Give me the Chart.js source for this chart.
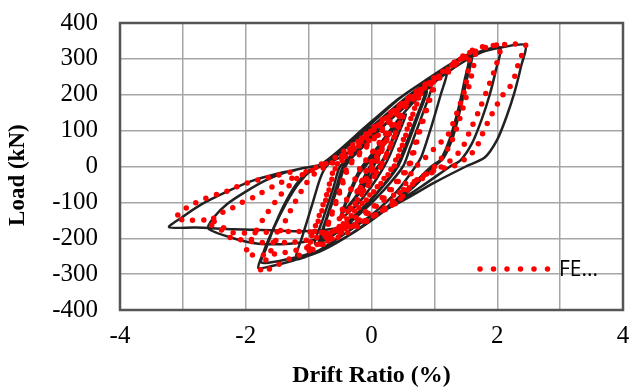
<!DOCTYPE html>
<html>
<head>
<meta charset="utf-8">
<script src="https://cdn.jsdelivr.net/npm/chart.js@4.4.1/dist/chart.umd.min.js"></script>
<style>
  html, body { margin: 0; padding: 0; background: #fff; }
  #wrap { width: 640px; height: 388px; }
</style>
</head>
<body>
<div id="wrap"><canvas id="chart" width="640" height="388"></canvas></div>
<script>
// Axis settings
const driftMin = -4, driftMax = 4;
const loadMin = -400, loadMax = 400;
const driftLabels = [-4, -2, 0, 2, 4];

// Experimental curve, [drift %, load kN]
const expPoints = [
  [0,0],[0.1,35],[0.22,70],[0.12,30],[0.03,0],[-0.1,-35],[-0.22,-68],[-0.12,-30],[-0.03,0],
  [0.12,45],[0.3,95],[0.45,128],[0.35,85],[0.2,25],[0.1,0],[-0.1,-45],[-0.3,-95],[-0.45,-125],[-0.35,-80],[-0.2,-22],[-0.1,0],
  [0.12,50],[0.32,100],[0.47,132],[0.37,88],[0.22,26],[0.12,0],[-0.08,-48],[-0.3,-98],[-0.47,-130],[-0.37,-84],[-0.22,-24],[-0.12,0],
  [0.15,55],[0.38,110],[0.55,145],[0.45,100],[0.3,35],[0.2,0],[0,-55],[-0.25,-110],[-0.5,-145],[-0.4,-95],[-0.25,-30],[-0.15,0],
  [0.1,55],[0.4,125],[0.7,185],[0.85,205],[0.72,140],[0.52,50],[0.4,0],[0.15,-60],[-0.2,-125],[-0.55,-180],[-0.8,-205],[-0.7,-140],[-0.52,-50],[-0.42,0],
  [-0.15,55],[0.3,130],[0.7,190],[0.88,210],[0.75,145],[0.55,52],[0.42,0],[0.15,-62],[-0.2,-128],[-0.58,-184],[-0.83,-210],[-0.72,-145],[-0.55,-52],[-0.45,0],
  [-0.1,60],[0.35,140],[0.75,200],[0.95,220],[0.82,150],[0.62,55],[0.5,0],[0.2,-65],[-0.2,-135],[-0.6,-190],[-0.9,-215],[-0.78,-150],[-0.6,-55],[-0.5,0],
  [-0.2,50],[0.2,130],[0.6,195],[0.95,240],[1.2,265],[1.1,200],[0.95,110],[0.8,30],[0.7,0],[0.4,-70],[0,-135],[-0.45,-190],[-0.85,-235],[-1.2,-258],[-1.1,-195],[-0.95,-110],[-0.82,-35],[-0.72,0],
  [-0.45,45],[0,120],[0.45,190],[0.9,245],[1.25,285],[1.55,312],[1.48,240],[1.38,160],[1.25,80],[1.1,20],[0.95,0],[0.6,-60],[0.2,-120],[-0.3,-185],[-0.8,-235],[-1.3,-265],[-1.6,-278],[-1.8,-283],[-1.72,-240],[-1.58,-180],[-1.4,-110],[-1.2,-50],[-1.0,-12],[-0.85,0],
  [-0.55,40],[-0.1,110],[0.4,185],[0.9,245],[1.3,290],[1.6,315],[1.52,245],[1.42,165],[1.3,85],[1.15,25],[1.0,0],[0.65,-60],[0.25,-118],[-0.25,-180],[-0.75,-228],[-1.25,-255],[-1.75,-268],[-1.68,-230],[-1.55,-170],[-1.35,-100],[-1.15,-45],[-0.95,-10],[-0.8,0],
  [-0.5,40],[0,110],[0.5,185],[1.0,250],[1.4,295],[1.75,322],[2.05,332],[1.98,270],[1.88,200],[1.75,130],[1.6,65],[1.42,18],[1.25,0],[0.8,-55],[0.3,-110],[-0.3,-165],[-0.8,-200],[-1.3,-215],[-1.8,-215],[-2.2,-200],[-2.6,-172],[-2.5,-140],[-2.3,-105],[-2.0,-70],[-1.7,-40],[-1.4,-18],[-1.1,-5],[-0.8,5],
  [-0.5,25],[0,85],[0.5,165],[1.0,235],[1.4,285],[1.75,318],[2.1,333],[2.45,338],[2.38,280],[2.28,210],[2.15,140],[2.0,75],[1.8,25],[1.5,0],[1.0,-45],[0.5,-95],[0,-140],[-0.5,-170],[-1.0,-180],[-1.6,-178],[-2.2,-175],[-2.8,-170],[-3.22,-169],[-3.0,-140],[-2.7,-105],[-2.3,-70],[-1.9,-40],[-1.5,-20],[-1.2,-10]
];

// FE model curve, [drift %, load kN]
const fePoints = [
  [0,0],[0.12,40],[0.25,78],[0.14,38],[0.04,0],[-0.1,-38],[-0.24,-76],[-0.14,-36],[-0.04,0],
  [0.12,42],[0.26,82],[0.15,40],[0.05,0],[-0.1,-40],[-0.25,-80],[-0.15,-38],[-0.05,0],
  [0.15,52],[0.34,108],[0.5,145],[0.4,100],[0.24,35],[0.14,0],[-0.06,-50],[-0.28,-106],[-0.5,-142],[-0.4,-96],[-0.26,-36],[-0.16,0],
  [0.08,55],[0.3,110],[0.52,150],[0.41,102],[0.25,36],[0.15,0],[-0.05,-52],[-0.28,-108],[-0.52,-146],[-0.41,-98],[-0.27,-38],[-0.17,0],
  [0.05,48],[0.3,112],[0.55,168],[0.76,200],[0.66,150],[0.48,62],[0.34,0],[0.1,-55],[-0.2,-112],[-0.5,-165],[-0.76,-198],[-0.66,-148],[-0.48,-60],[-0.36,0],
  [-0.1,50],[0.2,108],[0.5,165],[0.78,205],[0.67,152],[0.5,64],[0.36,0],[0.1,-58],[-0.2,-115],[-0.5,-168],[-0.78,-202],[-0.67,-150],[-0.5,-62],[-0.38,0],
  [-0.15,45],[0.2,110],[0.55,170],[0.8,212],[1.0,232],[0.9,180],[0.74,92],[0.58,0],[0.3,-62],[0,-118],[-0.4,-172],[-0.75,-212],[-1.0,-232],[-0.88,-168],[-0.7,-80],[-0.56,0],
  [-0.3,40],[0.1,112],[0.5,172],[0.85,220],[1.02,238],[0.92,182],[0.76,94],[0.6,0],[0.32,-64],[0.02,-120],[-0.4,-176],[-0.76,-216],[-1.02,-236],[-0.9,-170],[-0.72,-82],[-0.58,0],
  [-0.3,45],[0.1,115],[0.5,178],[0.9,232],[1.25,272],[1.55,310],[1.49,218],[1.36,150],[1.22,89],[1.08,64],[0.86,25],[0.67,-8],[0.5,-60],[0.25,-110],[-0.08,-150],[-0.44,-172],[-0.66,-183],[-0.9,-225],[-1.07,-242],[-1.29,-256],[-1.6,-284],[-1.77,-292],[-1.62,-242],[-1.45,-180],[-1.25,-110],[-1.05,-50],[-0.85,-10],[-0.7,0],
  [-0.4,40],[0,105],[0.45,172],[0.9,235],[1.3,285],[1.65,325],[1.6,260],[1.5,190],[1.38,120],[1.25,60],[1.08,15],[0.9,-18],[0.68,-42],[0.55,-71],[0.41,-100],[0.08,-133],[-0.08,-153],[-0.5,-195],[-1.0,-225],[-1.44,-242],[-1.8,-247],[-2.0,-243],[-1.9,-200],[-1.7,-140],[-1.45,-80],[-1.2,-35],[-0.95,-5],[-0.8,0],
  [-0.5,35],[0,100],[0.5,172],[0.95,236],[1.35,288],[1.7,325],[2.05,338],[1.98,281],[1.85,218],[1.71,156],[1.55,93],[1.44,50],[1.22,11],[0.96,-17],[0.6,-55],[0.3,-85],[0.14,-100],[-0.08,-124],[-0.5,-170],[-0.9,-200],[-1.25,-211],[-1.6,-212],[-1.83,-211],[-2.04,-205],[-2.23,-200],[-2.4,-175],[-2.59,-158],
  [-2.4,-131],[-2.23,-117],[-2.09,-103],[-1.88,-86],[-1.54,-53],[-1.36,-39],[-1.22,-30],[-0.99,-16],[-0.75,11],[-0.55,11],[-0.36,36],[-0.24,53],[-0.08,67],[0.08,86],[0.31,94],[0.45,140],[0.6,183],[0.9,230],[1.2,258],[1.33,294],[1.5,313],[1.68,331],[1.9,337],[2.15,340],[2.45,340],
  [2.34,291],[2.3,261],[2.2,222],[2.09,200],[1.98,167],[1.87,131],[1.76,89],[1.66,50],[1.5,22],[1.27,-3],[1.1,-5],[0.9,-18],[0.68,-42],[0.55,-71],[0.41,-100],[0.25,-114],[0.08,-133],[-0.27,-164],[-0.66,-183],[-1.22,-181],[-1.6,-183],[-2.0,-185],[-2.24,-183],[-2.54,-150],[-2.87,-150],[-3.12,-145],
  [-3.0,-122],[-2.82,-103],[-2.64,-89],[-2.46,-78],[-2.27,-67],[-2.1,-53],[-1.91,-42],[-1.73,-34],[-1.5,-25],[-1.2,-12]
];

const feLabel = 'FE...';

const toXY = pts => pts.map(p => ({ x: p[0], y: p[1] }));

// frame around the plot area
const plotFrame = {
  id: 'plotFrame',
  afterDatasetsDraw(chart) {
    const { ctx, chartArea: a } = chart;
    ctx.save();
    ctx.strokeStyle = '#555';
    ctx.lineWidth = 2.5;
    ctx.strokeRect(a.left, a.top, a.right - a.left, a.bottom - a.top);
    ctx.restore();
  }
};

// legend box inside plot, bottom right
const feLegend = {
  id: 'feLegend',
  afterDraw(chart) {
    const { ctx, chartArea: a } = chart;
    const y = a.bottom - 41;
    const x0 = a.right - 143;
    ctx.save();
    ctx.strokeStyle = '#ff0000';
    ctx.lineWidth = 5.5;
    ctx.lineCap = 'round';
    ctx.setLineDash([0, 13.5]);
    ctx.beginPath();
    ctx.moveTo(x0, y);
    ctx.lineTo(x0 + 70, y);
    ctx.stroke();
    ctx.setLineDash([]);
    ctx.fillStyle = '#000';
    ctx.font = '21px "Open Sans"';
    ctx.textBaseline = 'middle';
    ctx.fillText(feLabel, x0 + 79, y + 1);
    ctx.restore();
  }
};

new Chart(document.getElementById('chart'), {
  type: 'scatter',
  data: {
    datasets: [
      {
        label: feLabel,
        data: toXY(fePoints),
        showLine: true,
        borderColor: '#ff0000',
        borderWidth: 5.5,
        borderDash: [0, 11],
        borderCapStyle: 'round',
        pointRadius: 0,
        tension: 0.2
      },
      {
        label: 'Test',
        data: toXY(expPoints),
        showLine: true,
        borderColor: '#222',
        borderWidth: 2.5,
        pointRadius: 0,
        tension: 0.25
      }
    ]
  },
  options: {
    responsive: false,
    animation: false,
    layout: { padding: { top: 23, right: 17, bottom: 0, left: 0 } },
    plugins: {
      legend: { display: false },
      tooltip: { enabled: false }
    },
    scales: {
      x: {
        min: driftMin,
        max: driftMax,
        afterFit: s => { s.height = 78; s.paddingLeft = 0; s.paddingRight = 0; },
        grid: { color: '#a6a6a6', lineWidth: 1.5, drawTicks: false },
        border: { display: false },
        ticks: {
          stepSize: 1,
          padding: 11,
          color: '#000',
          font: { family: '"Liberation Serif"', size: 25 },
          callback: v => driftLabels.includes(v) ? String(v) : ''
        },
        title: {
          display: true,
          text: 'Drift Ratio (%)',
          color: '#000',
          padding: { top: 0, bottom: 0 },
          font: { family: '"Liberation Serif"', size: 24, weight: 'bold', lineHeight: 1 }
        }
      },
      y: {
        min: loadMin,
        max: loadMax,
        afterFit: s => { s.width = 120; s.paddingTop = 0; s.paddingBottom = 0; },
        grid: { color: '#a6a6a6', lineWidth: 1.5, drawTicks: false },
        border: { display: false },
        ticks: {
          stepSize: 100,
          padding: 22,
          color: '#000',
          font: { family: '"Liberation Serif"', size: 25 }
        },
        title: {
          display: true,
          text: 'Load (kN)   ',
          color: '#000',
          padding: { top: 6.5, bottom: 0 },
          font: { family: '"Liberation Serif"', size: 23, weight: 'bold', lineHeight: 1 }
        }
      }
    }
  },
  plugins: [plotFrame, feLegend]
});
</script>
</body>
</html>
